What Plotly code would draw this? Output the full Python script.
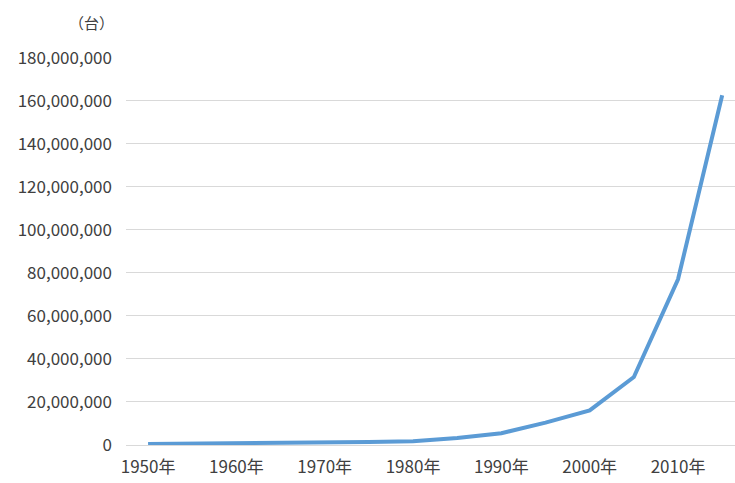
import plotly.graph_objects as go

# Vehicle count by year (units: 台)
years = [1950, 1955, 1960, 1965, 1970, 1975, 1980, 1985, 1990, 1995, 2000, 2005, 2010, 2015]
vehicles = [500000, 600000, 800000, 900000, 1100000, 1400000, 1800000, 3200000,
            5500000, 10400000, 16100000, 31600000, 77000000, 162500000]

year_labels = [f"{y}年" for y in years]
tick_positions = [i for i, y in enumerate(years) if y % 10 == 0]
tick_text = [year_labels[i] for i in tick_positions]

y_ticks = list(range(0, 180000001, 20000000))
y_text = [f"{v:,}" for v in y_ticks]

font_family = "Noto Sans CJK JP, Noto Sans, sans-serif"
text_color = "#404040"

fig = go.Figure(
    go.Scatter(
        x=list(range(len(years))),
        y=vehicles,
        mode="lines",
        line=dict(color="#5B9BD5", width=4),
        hoverinfo="skip",
    )
)

fig.update_layout(
    width=735,
    height=483,
    margin=dict(l=126, r=0, t=57, b=38),
    paper_bgcolor="white",
    plot_bgcolor="white",
    showlegend=False,
    font=dict(family=font_family, size=17, color=text_color),
    xaxis=dict(
        range=[-0.5, 13.29],
        tickmode="array",
        tickvals=tick_positions,
        ticktext=tick_text,
        showgrid=False,
        zeroline=False,
        showline=False,
        ticks="",
        ticklabelstandoff=10,
    ),
    yaxis=dict(
        range=[0, 180300000],
        tickmode="array",
        tickvals=y_ticks,
        ticktext=y_text,
        showgrid=True,
        gridcolor="#D9D9D9",
        gridwidth=1,
        zeroline=True,
        zerolinecolor="#D9D9D9",
        zerolinewidth=1,
        showline=False,
        ticks="",
        ticklabelstandoff=13,
    ),
    annotations=[
        dict(
            text="（台）",
            xref="paper",
            yref="paper",
            x=(91 - 126) / 609,
            y=1.0,
            yshift=35,
            xanchor="center",
            yanchor="middle",
            showarrow=False,
            font=dict(family=font_family, size=15, color=text_color),
        )
    ],
)

fig.write_html("out.html")
